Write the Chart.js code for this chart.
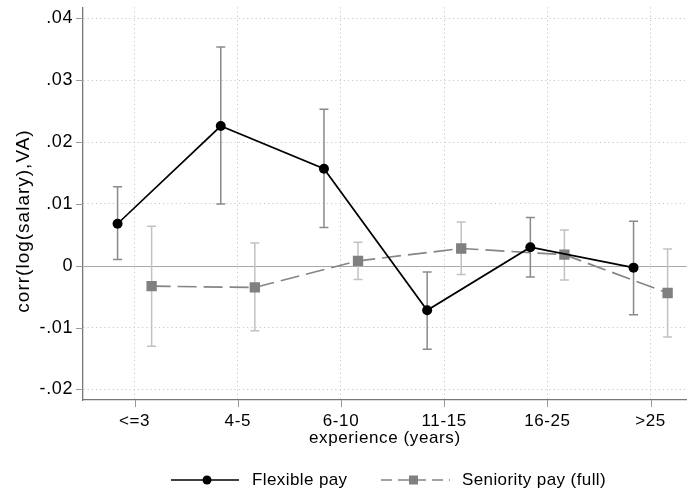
<!DOCTYPE html>
<html>
<head>
<meta charset="utf-8">
<script src="https://cdn.jsdelivr.net/npm/chart.js@4.4.0/dist/chart.umd.min.js"></script>
<style>
  html, body { margin: 0; padding: 0; background: #fff; }
  #wrap { width: 694px; height: 491px; position: relative; }
</style>
</head>
<body>
<div id="wrap"><canvas id="myChart"></canvas></div>
<script>
const categories = ['<=3', '4-5', '6-10', '11-15', '16-25', '>25'];

const flexible = [0.0068, 0.0226, 0.0157, -0.0072, 0.0030, -0.0003];
const flexibleLow = [0.0010, 0.0100, 0.0062, -0.0135, -0.0018, -0.0079];
const flexibleHigh = [0.0128, 0.0354, 0.0253, -0.0010, 0.0078, 0.0072];

const seniority = [-0.0033, -0.0035, 0.0008, 0.0028, 0.0018, -0.0044];
const seniorityLow = [-0.0130, -0.0105, -0.0022, -0.0014, -0.0023, -0.0115];
const seniorityHigh = [0.0064, 0.0037, 0.0038, 0.0071, 0.0058, 0.0027];

const yTicks = [-0.02, -0.01, 0, 0.01, 0.02, 0.03, 0.04];
const yTickLabels = ['-.02', '-.01', '0', '.01', '.02', '.03', '.04'];

const FONT = '"Liberation Sans", Arial, Helvetica, sans-serif';
const shift = 0.165;

// error bars, zero line, tick marks, y title and legend
const extras = {
    id: 'extras',
    beforeDraw(chart) {
        // the reference text is set a bit wide
        chart.ctx.letterSpacing = '0.6px';
    },
    beforeDatasetsDraw(chart) {
        const ctx = chart.ctx;
        const x = chart.scales.x, y = chart.scales.y;
        const area = chart.chartArea;
        ctx.save();
        // zero line
        ctx.strokeStyle = '#a8a8a8';
        ctx.lineWidth = 1;
        ctx.beginPath();
        ctx.moveTo(area.left, Math.round(y.getPixelForValue(0)) + 0.5);
        ctx.lineTo(area.right, Math.round(y.getPixelForValue(0)) + 0.5);
        ctx.stroke();
        // error bars
        chart.data.datasets.forEach((ds, di) => {
            const meta = chart.getDatasetMeta(di);
            ctx.strokeStyle = ds.ciColor;
            ctx.lineWidth = 1.5;
            meta.data.forEach((pt, i) => {
                const px = pt.x;
                const lo = y.getPixelForValue(ds.lo[i]);
                const hi = y.getPixelForValue(ds.hi[i]);
                ctx.beginPath();
                ctx.moveTo(px, lo); ctx.lineTo(px, hi);
                ctx.moveTo(px - 4.5, lo); ctx.lineTo(px + 4.5, lo);
                ctx.moveTo(px - 4.5, hi); ctx.lineTo(px + 4.5, hi);
                ctx.stroke();
            });
        });
        // tick marks
        ctx.strokeStyle = '#999';
        ctx.lineWidth = 1;
        ctx.beginPath();
        yTicks.forEach(v => {
            const py = Math.round(y.getPixelForValue(v)) + 0.5;
            ctx.moveTo(area.left - 7, py); ctx.lineTo(area.left, py);
        });
        categories.forEach((c, i) => {
            const px = Math.round(x.getPixelForValue(i + 1)) + 0.5;
            ctx.moveTo(px, area.bottom); ctx.lineTo(px, area.bottom + 7);
        });
        ctx.stroke();
        ctx.restore();
    },
    afterDraw(chart) {
        const ctx = chart.ctx;
        ctx.save();
        // y title
        ctx.fillStyle = '#000';
        ctx.font = '19px ' + FONT;
        ctx.letterSpacing = '1px';
        ctx.textAlign = 'center';
        ctx.textBaseline = 'middle';
        ctx.translate(24, 221);
        ctx.rotate(-Math.PI / 2);
        ctx.fillText('corr(log(salary),VA)', 0, 0);
        ctx.restore();

        // legend
        ctx.save();
        const ly = 480;
        ctx.strokeStyle = '#000';
        ctx.lineWidth = 1.6;
        ctx.beginPath(); ctx.moveTo(171, ly); ctx.lineTo(239, ly); ctx.stroke();
        ctx.fillStyle = '#000';
        ctx.beginPath(); ctx.arc(207, ly, 4.5, 0, Math.PI * 2); ctx.fill();
        ctx.strokeStyle = '#858585';
        ctx.setLineDash([11, 6]);
        ctx.beginPath(); ctx.moveTo(381, ly); ctx.lineTo(450, ly); ctx.stroke();
        ctx.setLineDash([]);
        ctx.fillStyle = '#808080';
        ctx.fillRect(409, ly - 4.5, 9, 9);
        ctx.fillStyle = '#000';
        ctx.font = '17px ' + FONT;
        ctx.letterSpacing = '0.4px';
        ctx.textAlign = 'left';
        ctx.textBaseline = 'middle';
        ctx.fillText('Flexible pay', 252, ly);
        ctx.fillText('Seniority pay (full)', 462, ly);
        ctx.restore();
    }
};

const data = {
    datasets: [
        {
            label: 'Flexible pay',
            data: flexible.map((v, i) => ({ x: i + 1 - shift, y: v })),
            lo: flexibleLow,
            hi: flexibleHigh,
            ciColor: '#8a8a8a',
            borderColor: '#000',
            backgroundColor: '#000',
            borderWidth: 1.7,
            pointStyle: 'circle',
            pointRadius: 5,
            pointBorderWidth: 0,
            order: 1
        },
        {
            label: 'Seniority pay (full)',
            data: seniority.map((v, i) => ({ x: i + 1 + shift, y: v })),
            lo: seniorityLow,
            hi: seniorityHigh,
            ciColor: '#c2c2c2',
            borderColor: '#858585',
            backgroundColor: '#808080',
            borderWidth: 1.7,
            borderDash: [19, 7],
            pointStyle: 'rect',
            pointRadius: 7.3,
            pointBorderWidth: 0,
            order: 2
        }
    ]
};

const config = {
    type: 'line',
    data: data,
    plugins: [extras],
    options: {
        animation: false,
        responsive: true,
        maintainAspectRatio: false,
        devicePixelRatio: 1,
        layout: { padding: { top: 6, right: 6, left: 0, bottom: 0 } },
        plugins: { legend: { display: false }, tooltip: { enabled: false } },
        scales: {
            x: {
                type: 'linear',
                min: 0.5,
                max: 6.35,
                afterBuildTicks: (scale) => {
                    scale.ticks = categories.map((c, i) => ({ value: i + 1 }));
                },
                afterFit: (scale) => {
                    scale.height = 91;
                    scale.paddingLeft = 0;
                    scale.paddingRight = 0;
                },
                ticks: {
                    autoSkip: false,
                    maxRotation: 0,
                    padding: 11,
                    color: '#000',
                    font: { family: FONT, size: 17 },
                    callback: (v, i) => categories[i]
                },
                grid: { color: '#c8c8c8', lineWidth: 1, drawTicks: false },
                border: { display: true, color: '#777', width: 1.3, dash: [1.2, 3] },
                title: {
                    display: true,
                    text: 'experience (years)',
                    color: '#000',
                    font: { family: FONT, size: 17 },
                    padding: { top: 0, bottom: 42 }
                }
            },
            y: {
                type: 'linear',
                min: -0.0217,
                max: 0.0418,
                afterBuildTicks: (scale) => {
                    scale.ticks = yTicks.map(v => ({ value: v }));
                },
                afterFit: (scale) => {
                    scale.width = 83;
                    scale.paddingTop = 0;
                    scale.paddingBottom = 0;
                },
                ticks: {
                    padding: 10,
                    color: '#000',
                    font: { family: FONT, size: 18 },
                    callback: (v, i) => yTickLabels[i]
                },
                grid: {
                    color: (c) => (c.tick && c.tick.value === 0) ? 'rgba(0,0,0,0)' : '#c8c8c8',
                    lineWidth: 1,
                    drawTicks: false
                },
                border: { display: true, color: '#777', width: 1.3, dash: [1.2, 3] },
                title: { display: false }
            }
        }
    }
};

new Chart(document.getElementById('myChart').getContext('2d'), config);
</script>
</body>
</html>
